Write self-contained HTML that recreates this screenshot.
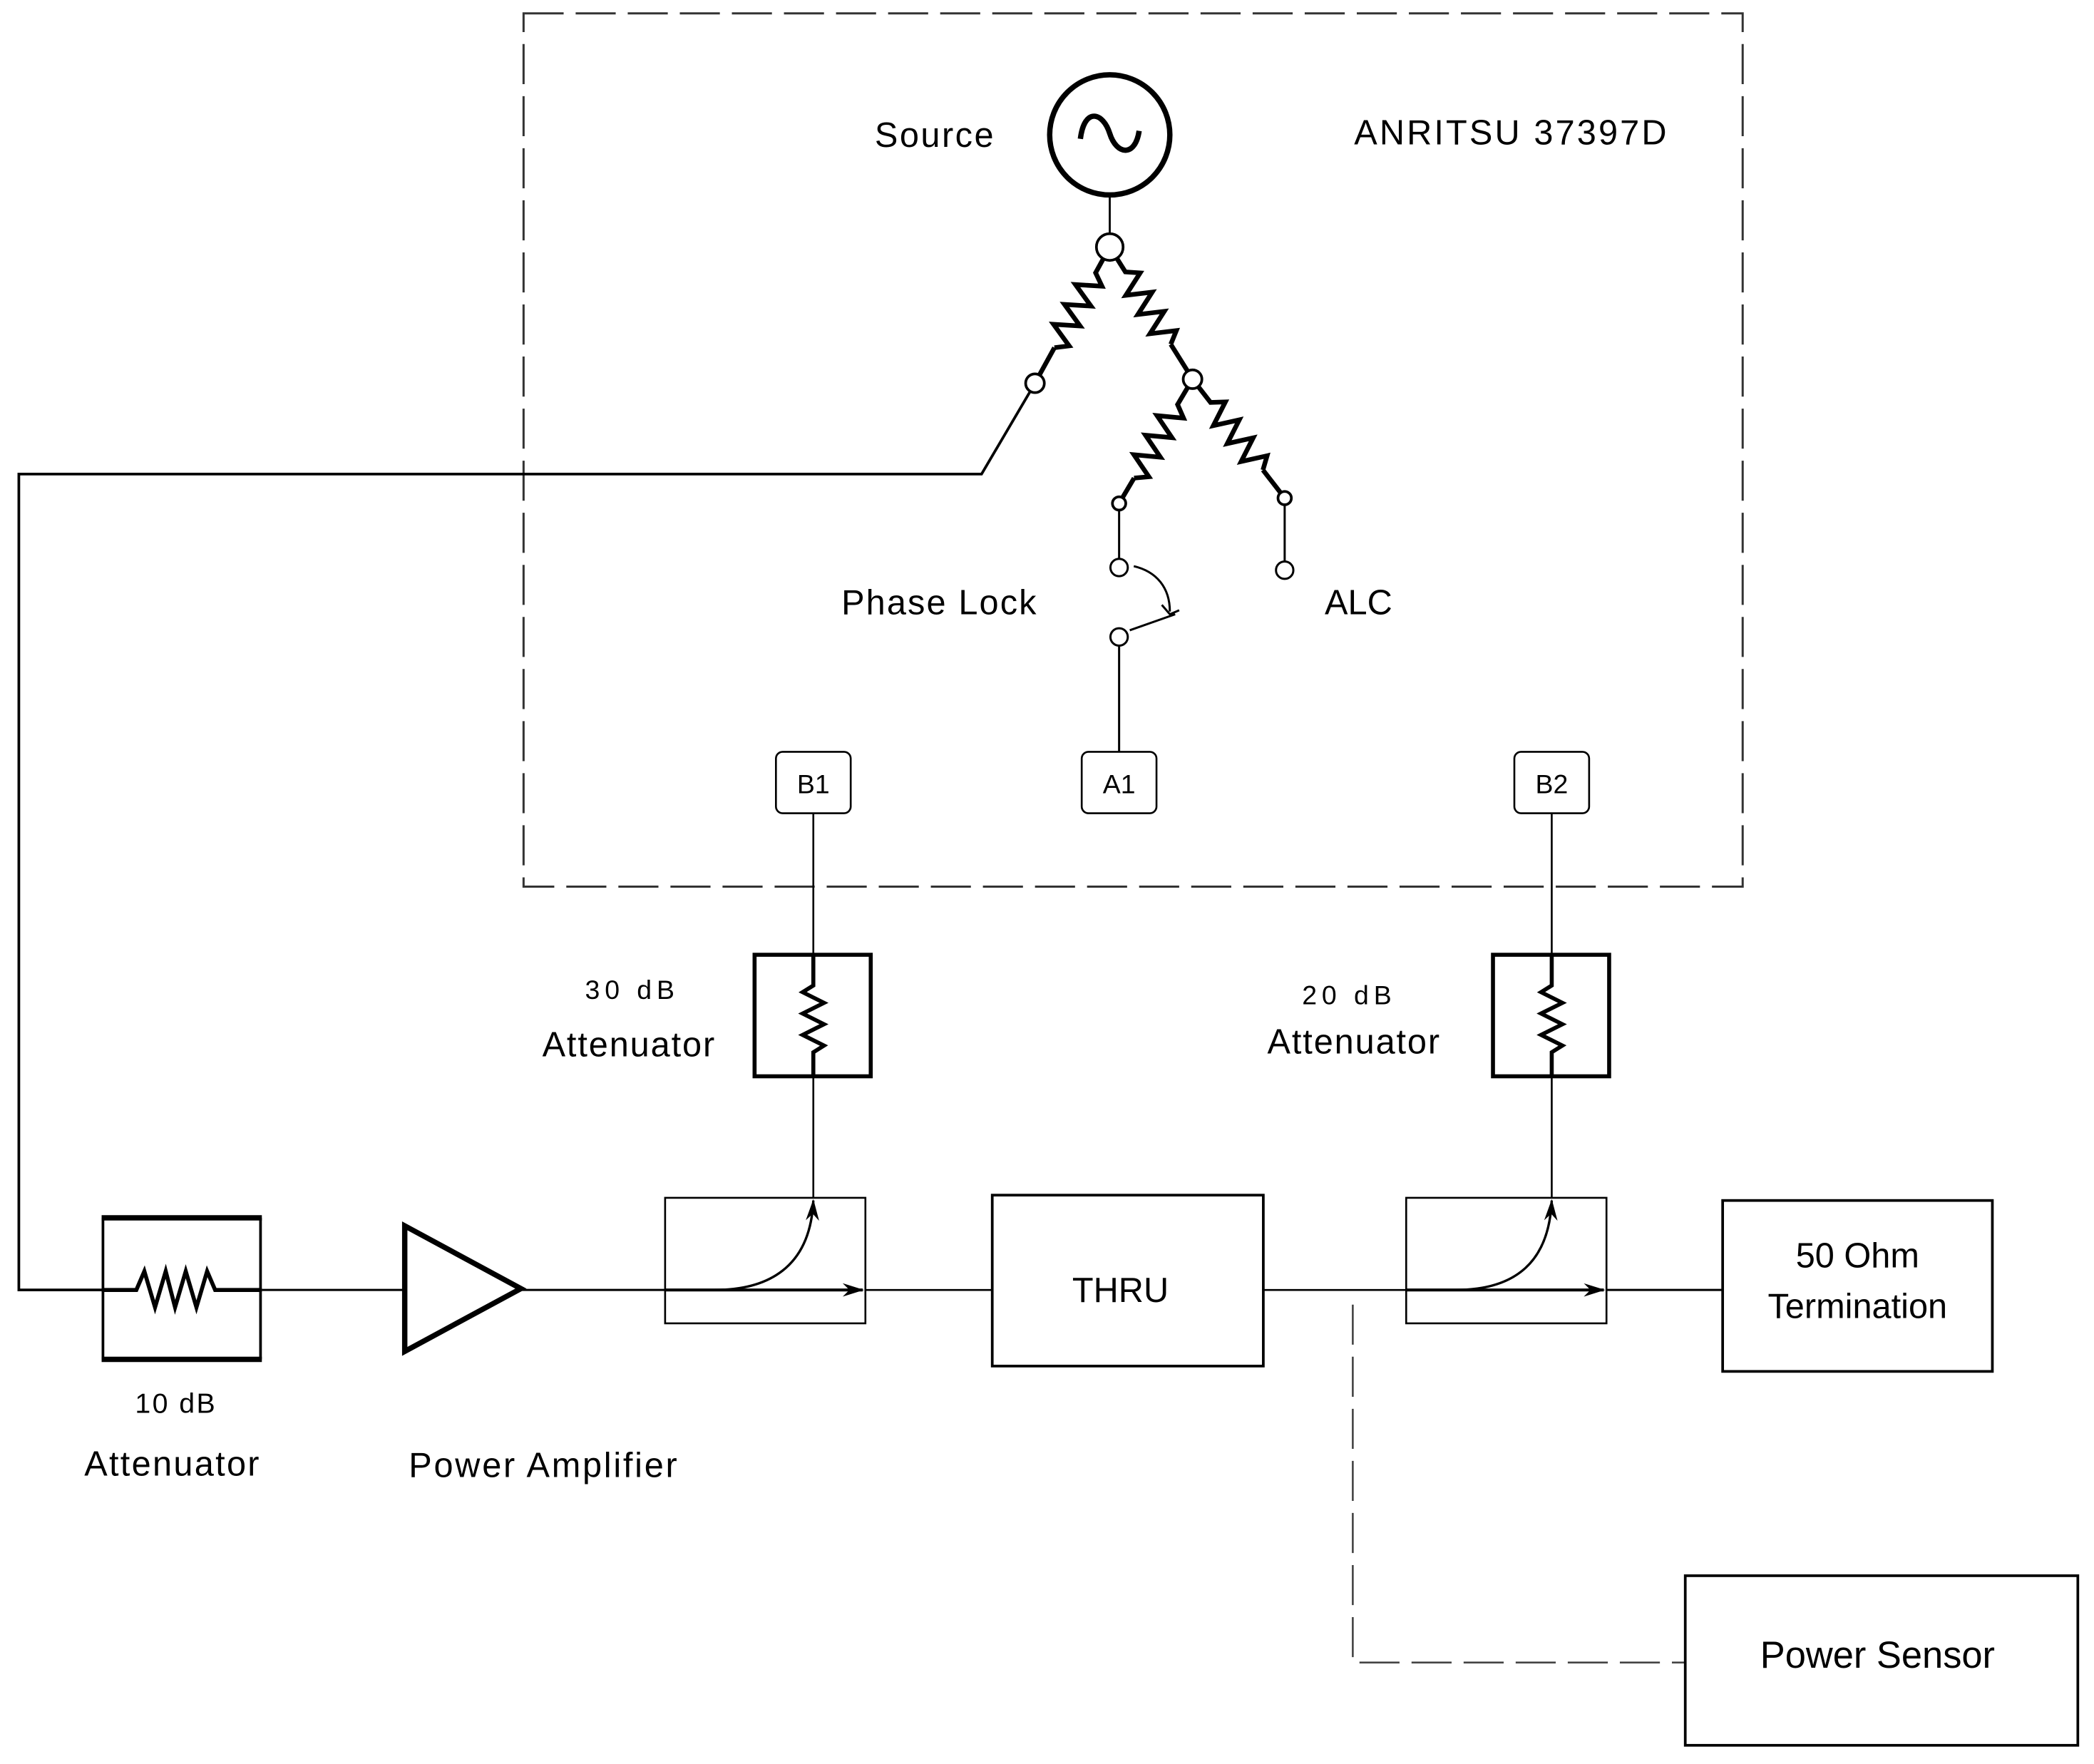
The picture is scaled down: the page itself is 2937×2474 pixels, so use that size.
<!DOCTYPE html>
<html><head><meta charset="utf-8"><style>html,body{margin:0;padding:0;background:#fff}svg{display:block}</style></head>
<body>
<svg width="2937" height="2474" viewBox="0 0 1568 1321" xmlns="http://www.w3.org/2000/svg" font-family="Liberation Sans, sans-serif" fill="none" stroke="#000">
<defs>
<marker id="ar" markerWidth="16" markerHeight="12" refX="15" refY="6" orient="auto" markerUnits="userSpaceOnUse"><path d="M0,1 L16,6 L0,11 L5,6 Z" fill="#000" stroke="none"/></marker>
<path id="zz" d="M0,0 L22,0 L28.5,-9 L37,9 L45.5,-9 L54,9 L62.5,-9 L71,9 L79.5,-9 L86,0"/>
</defs>
<rect x="392" y="10" width="913" height="654" stroke-width="1.6" stroke="#333" stroke-dasharray="30,9"/>
<circle cx="831" cy="101" r="45" stroke-width="4"/>
<path d="M809,104 C812,80 826,84 831,100 C836,116 850,118 853,98" stroke-width="4"/>
<line x1="831" y1="147" x2="831" y2="176" stroke-width="1.5"/>
<g stroke-width="3.5">
<g transform="translate(831,185) rotate(118.8)"><use href="#zz"/><line x1="86" y1="0" x2="116" y2="0"/></g>
<g transform="translate(831,185) rotate(57.9)"><use href="#zz"/><line x1="86" y1="0" x2="117" y2="0"/></g>
<g transform="translate(893,284) rotate(120.6)"><use href="#zz"/><line x1="86" y1="0" x2="108" y2="0"/></g>
<g transform="translate(893,284) rotate(52.2)"><use href="#zz"/><line x1="86" y1="0" x2="112" y2="0"/></g>
</g>
<polyline points="775,287 735,355 14,355 14,966 76,966" stroke-width="2"/>
<g fill="#fff" stroke-width="2">
<circle cx="831" cy="185" r="10"/>
<circle cx="775" cy="287" r="7"/>
<circle cx="893" cy="284" r="7"/>
<circle cx="838" cy="377" r="5"/>
<circle cx="962" cy="373" r="5"/>
</g>
<g stroke-width="1.6">
<line x1="838" y1="382" x2="838" y2="419"/>
<line x1="962" y1="378" x2="962" y2="421"/>
<circle cx="838" cy="425" r="6.5" fill="#fff"/>
<circle cx="962" cy="427" r="6.5" fill="#fff"/>
<circle cx="838" cy="477" r="6.5" fill="#fff"/>
<path d="M849,424 C866,428 876,440 876,458"/>
<path d="M870,453 L876,460 L883,457"/>
<line x1="846" y1="472" x2="880" y2="460"/>
<line x1="838" y1="484" x2="838" y2="563"/>
</g>
<g stroke-width="1.4" fill="#fff">
<rect x="581" y="563" width="56" height="46" rx="5"/>
<rect x="810" y="563" width="56" height="46" rx="5"/>
<rect x="1134" y="563" width="56" height="46" rx="5"/>
</g>
<g stroke-width="1.4">
<line x1="609" y1="609" x2="609" y2="738"/>
<line x1="609" y1="790" x2="609" y2="897"/>
<line x1="1162" y1="609" x2="1162" y2="738"/>
<line x1="1162" y1="790" x2="1162" y2="897"/>
</g>
<g stroke-width="3">
<rect x="565" y="715" width="87" height="91"/>
<rect x="1118" y="715" width="87" height="91"/>
<path d="M609,715 L609,738 L601,743 L617,751 L601,759 L617,767 L601,775 L617,783 L609,788 L609,806"/>
<path d="M1162,715 L1162,738 L1154,743 L1170,751 L1154,759 L1170,767 L1154,775 L1170,783 L1162,788 L1162,806"/>
</g>
<g stroke-width="4">
<line x1="76" y1="912" x2="196" y2="912"/>
<line x1="76" y1="1018" x2="196" y2="1018"/>
</g>
<g stroke-width="2">
<line x1="77" y1="912" x2="77" y2="1018"/>
<line x1="195" y1="912" x2="195" y2="1018"/>
</g>
<path d="M76,966 L102,966 L108,952 L116,979 L124,952 L131,979 L139,952 L147,979 L155,952 L161,966 L196,966" stroke-width="3"/>
<line x1="196" y1="966" x2="303" y2="966" stroke-width="1.6"/>
<polygon points="303,918 303,1012 390,965" stroke-width="4"/>
<line x1="390" y1="966" x2="498" y2="966" stroke-width="1.6"/>
<rect x="498" y="897" width="150" height="94" stroke-width="1.4"/>
<line x1="498" y1="966" x2="646" y2="966" stroke-width="2.2" marker-end="url(#ar)"/>
<path d="M535,966 C580,966 607,945 609,899" stroke-width="1.8" marker-end="url(#ar)"/>
<line x1="648" y1="966" x2="743" y2="966" stroke-width="1.4"/>
<rect x="743" y="895" width="203" height="128" stroke-width="2"/>
<line x1="946" y1="966" x2="1053" y2="966" stroke-width="1.4"/>
<rect x="1053" y="897" width="150" height="94" stroke-width="1.4"/>
<line x1="1053" y1="966" x2="1201" y2="966" stroke-width="2.2" marker-end="url(#ar)"/>
<path d="M1090,966 C1135,966 1160,945 1162,899" stroke-width="1.8" marker-end="url(#ar)"/>
<line x1="1203" y1="966" x2="1290" y2="966" stroke-width="1.6"/>
<rect x="1290" y="899" width="202" height="128" stroke-width="2"/>
<polyline points="1013,977 1013,1245 1262,1245" stroke-width="1.4" stroke="#444" stroke-dasharray="30,9"/>
<rect x="1262" y="1180" width="294" height="127" stroke-width="2"/>
<g fill="#000" stroke="none" font-size="26">
<text x="655" y="110" textLength="89">Source</text>
<text x="1014" y="108" textLength="234">ANRITSU 37397D</text>
<text x="630" y="460" textLength="146">Phase Lock</text>
<text x="992" y="460">ALC</text>
<text x="609" y="594" font-size="20" text-anchor="middle">B1</text>
<text x="838" y="594" font-size="20" text-anchor="middle">A1</text>
<text x="1162" y="594" font-size="20" text-anchor="middle">B2</text>
<text x="438" y="748" font-size="20" textLength="67">30 dB</text>
<text x="406" y="791" textLength="129">Attenuator</text>
<text x="975" y="752" font-size="20" textLength="67">20 dB</text>
<text x="949" y="789" textLength="129">Attenuator</text>
<text x="839" y="975" text-anchor="middle">THRU</text>
<text x="1391" y="949" text-anchor="middle">50 Ohm</text>
<text x="1391" y="987" text-anchor="middle">Termination</text>
<text x="1406" y="1249" text-anchor="middle" font-size="28">Power Sensor</text>
<text x="101" y="1058" font-size="21" textLength="60">10 dB</text>
<text x="63" y="1105" textLength="131">Attenuator</text>
<text x="306" y="1106" textLength="201">Power Amplifier</text>
</g>
</svg>
</body></html>
